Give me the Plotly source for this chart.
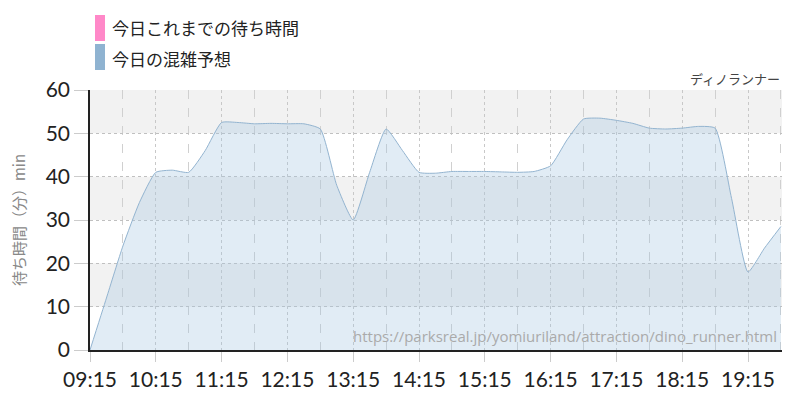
import plotly.graph_objects as go

times = ["09:15", "09:30", "09:45", "10:00", "10:15", "10:30", "10:45", "11:00",
         "11:15", "11:30", "11:45", "12:00", "12:15", "12:30", "12:45", "13:00",
         "13:15", "13:30", "13:45", "14:00", "14:15", "14:30", "14:45", "15:00",
         "15:15", "15:30", "15:45", "16:00", "16:15", "16:30", "16:45", "17:00",
         "17:15", "17:30", "17:45", "18:00", "18:15", "18:30", "18:45", "19:00",
         "19:15", "19:30", "19:45"]
forecast = [0, 12, 24, 34, 41, 41.5, 41, 46,
            52.5, 52.5, 52.2, 52.3, 52.2, 52.2, 51, 38,
            30, 41, 51, 46, 41, 40.8, 41.2, 41.2,
            41.2, 41.1, 41, 41.2, 42.5, 48.5, 53.3, 53.5,
            53, 52.3, 51.2, 51, 51.2, 51.6, 51.2, 35,
            18, 23.5, 28.5]
actual_times = []
actual = []

DAY = "2024-01-01 "
x = [DAY + t for t in times]

fig = go.Figure()

# background bands
for lo in range(0, 60, 10):
    if (lo // 10) % 2 == 1:
        fig.add_shape(type="rect", xref="paper", yref="y", x0=0, x1=1, y0=lo, y1=lo + 10,
                      fillcolor="#f2f2f2", line_width=0, layer="below")

fig.add_trace(go.Scatter(
    x=[DAY + t for t in actual_times], y=actual, mode="lines",
    line=dict(color="#ff88c8", width=2), showlegend=False, name="今日これまでの待ち時間"))
fig.add_trace(go.Scatter(
    x=x, y=forecast, mode="lines", fill="tozeroy",
    line=dict(color="#93b4d0", width=1, shape="spline", smoothing=0.5),
    fillcolor="rgba(165,198,226,0.33)", showlegend=False, name="今日の混雑予想"))

tickfont = dict(family="Lato, sans-serif", size=21, color="#222")

fig.update_layout(
    width=800, height=400,
    margin=dict(l=90, r=18, t=90, b=50, autoexpand=False),
    paper_bgcolor="white", plot_bgcolor="white",
    font=dict(family="Noto Sans CJK JP, sans-serif"),
    xaxis=dict(
        type="date", range=[DAY + "09:15", DAY + "19:46"], automargin=False,
        tick0=DAY + "09:15", dtick=3600000, tickformat="%H:%M",
        tickfont=tickfont, ticks="outside", ticklen=10, tickcolor="#cccccc",
        showgrid=True, gridcolor="#c8c8c8", griddash="dot", gridwidth=1,
        minor=dict(dtick=1800000, tick0=DAY + "09:15", showgrid=True,
                   gridcolor="#d0d0d0", griddash="dash", ticks=""),
        showline=True, linecolor="#222", linewidth=1.5, zeroline=False,
    ),
    yaxis=dict(
        range=[0, 60], dtick=10, tickfont=tickfont, automargin=False,
        ticks="outside", ticklen=14, tickcolor="#cccccc",
        showgrid=True, gridcolor="#c0c0c0", griddash="dot",
        showline=True, linecolor="#222", linewidth=1.5, zeroline=False,
        title=dict(text="待ち時間（分）min", font=dict(size=15, color="#888"), standoff=16),
    ),
)

# legend
legend_items = [("今日これまでの待ち時間", "#ff88c8"), ("今日の混雑予想", "#8fb3d1")]
for i, (label, color) in enumerate(legend_items):
    fig.add_shape(type="rect", xref="paper", yref="paper",
                  x0=(95 - 90) / 692, x1=(105 - 90) / 692,
                  y0=(400 - 50 - (15 + 29 * i + 26)) / 260, y1=(400 - 50 - (15 + 29 * i)) / 260,
                  fillcolor=color, line_width=0)
    fig.add_annotation(text=label, xref="paper", yref="paper",
                       x=(110 - 90) / 692, y=(400 - 50 - (28 + 30 * i)) / 260,
                       xanchor="left", yanchor="middle", showarrow=False,
                       font=dict(size=17, color="#222"))

fig.add_annotation(text="ディノランナー", xref="paper", yref="paper", x=1, y=1,
                   xanchor="right", yanchor="bottom", yshift=0, showarrow=False,
                   font=dict(size=13, color="#444"))
fig.add_annotation(text="https://parksreal.jp/yomiuriland/attraction/dino_runner.html",
                   xref="paper", yref="paper", x=(779 - 90) / 692, y=(350 - 336) / 260,
                   xanchor="right", yanchor="middle", showarrow=False,
                   font=dict(family="Open Sans, sans-serif", size=15, color="#aaaaaa"))

fig.write_html("out.html", post_script="document.body.style.margin='0';",
               config={"displayModeBar": False})
